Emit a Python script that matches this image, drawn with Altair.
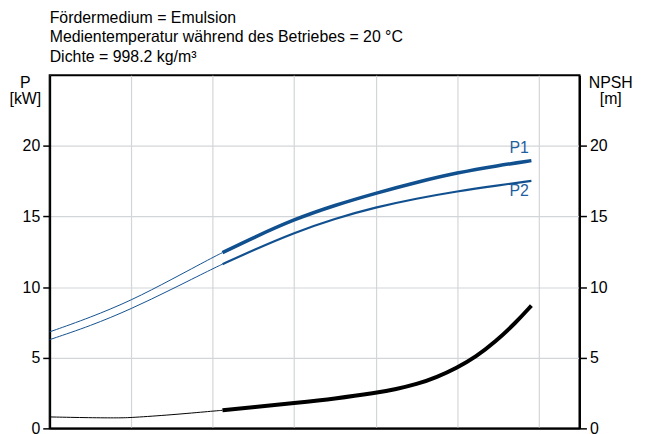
import altair as alt
import pandas as pd

# ---- data ----
Q_P1 = [0, 10, 20, 30, 40, 42.4, 50, 60, 70, 80, 90, 100, 110, 118.2]
P1 = [6.83, 7.85, 9.05, 10.55, 12.1, 12.44, 13.5, 14.8, 15.8, 16.65, 17.42, 18.1, 18.6, 18.95]

Q_P2 = [0, 10, 20, 30, 40, 42.4, 50, 60, 70, 80, 90, 100, 110, 118.2]
P2 = [6.28, 7.25, 8.45, 9.85, 11.3, 11.62, 12.62, 13.85, 14.85, 15.65, 16.27, 16.78, 17.2, 17.52]

Q_NPSH = [0, 10, 17, 20, 30, 40, 42.4, 50, 60, 70, 80, 85, 90, 95, 100, 104.6, 109.3, 114.3, 118.2]
NPSH = [0.81, 0.75, 0.74, 0.76, 0.96, 1.22, 1.28, 1.5, 1.8, 2.1, 2.5, 2.78, 3.12, 3.62, 4.3, 5.07, 6.12, 7.46, 8.69]

Q_SPLIT = 42.4  # start of the thick (operating) part

LABELS = ["P1", "P2"]
LABEL_Q = [115.2, 115.2]
LABEL_Y = [19.85, 16.8]

TITLE_LINES = [
    "Fördermedium = Emulsion",
    "Medientemperatur während des Betriebes = 20 °C",
    "Dichte = 998.2 kg/m³",
]
X_GRID = [0, 20, 40, 60, 80, 100, 120]
Y_TICKS = [0, 5, 10, 15, 20]

BLUE = "#11508f"
FONT = "Liberation Sans"
FS = 16


def part(qs, vs, thick):
    rows = [(q, v) for q, v in zip(qs, vs) if (q >= Q_SPLIT if thick else q <= Q_SPLIT)]
    return pd.DataFrame(rows, columns=["Q", "v"])


x_enc = alt.X(
    "Q:Q",
    scale=alt.Scale(domain=[0, 130], nice=False, zero=False),
    axis=alt.Axis(values=X_GRID, labels=False, ticks=False, title=None,
                  grid=True, gridColor="#d3d6d9", gridWidth=1.2,
                  domainColor="black", domainWidth=2),
)


def y_left():
    return alt.Y(
        "v:Q",
        scale=alt.Scale(domain=[0, 25], nice=False),
        axis=alt.Axis(values=Y_TICKS, orient="left", title=["P", "[kW]"],
                      titleAngle=0, titleAlign="center", titleBaseline="top",
                      titleX=-25, titleY=-1, titleFontSize=FS, titleFont=FONT,
                      titleFontWeight="normal", titleColor="black", titleLineHeight=17,
                      labelFontSize=FS, labelFont=FONT, labelColor="black",
                      labelPadding=3, tickSize=7, tickWidth=1.5, tickColor="black",
                      domainColor="black", domainWidth=2,
                      grid=True, gridColor="#d3d6d9", gridWidth=1.2),
    )


def y_right():
    return alt.Y(
        "v:Q",
        scale=alt.Scale(domain=[0, 25], nice=False),
        axis=alt.Axis(values=Y_TICKS, orient="right", title=["NPSH", "[m]"],
                      titleAngle=0, titleAlign="center", titleBaseline="top",
                      titleX=31, titleY=-1, titleFontSize=FS, titleFont=FONT,
                      titleFontWeight="normal", titleColor="black", titleLineHeight=17,
                      labelFontSize=FS, labelFont=FONT, labelColor="black",
                      labelPadding=3, tickSize=7, tickWidth=1.5, tickColor="black",
                      domainColor="black", domainWidth=2, grid=False),
    )


def line(df, color, width, yenc):
    return alt.Chart(df).mark_line(color=color, strokeWidth=width, interpolate="basis",
                                   strokeCap="butt").encode(x=x_enc, y=yenc)


lbl_df = pd.DataFrame({"Q": LABEL_Q, "v": LABEL_Y, "t": LABELS})
labels = alt.Chart(lbl_df).mark_text(color="#1f5f9f", fontSize=FS, font=FONT,
                                      align="center", baseline="middle").encode(
    x=x_enc, y=y_left(), text="t:N")

p_layer = alt.layer(
    line(part(Q_P1, P1, False), BLUE, 1, y_left()),
    line(part(Q_P1, P1, True), BLUE, 3.5, y_left()),
    line(part(Q_P2, P2, False), BLUE, 1, y_left()),
    line(part(Q_P2, P2, True), BLUE, 2.2, y_left()),
    labels,
)

n_layer = alt.layer(
    line(part(Q_NPSH, NPSH, False), "black", 1, y_right()),
    line(part(Q_NPSH, NPSH, True), "black", 4, y_right()),
)

chart = alt.layer(p_layer, n_layer).resolve_scale(y="independent").properties(
    width=534,
    height=356,
    padding={"left": 42, "top": 66, "right": 62, "bottom": 6},
    autosize=alt.AutoSizeParams(type="none"),
    title=alt.TitleParams(text=TITLE_LINES, anchor="start", frame="group", fontSize=FS,
                          font=FONT, fontWeight="normal", color="black", lineHeight=20,
                          offset=9),
).configure_view(stroke="black", strokeWidth=2)

chart.save("out.html", embed_options={"renderer": "svg", "actions": False})
